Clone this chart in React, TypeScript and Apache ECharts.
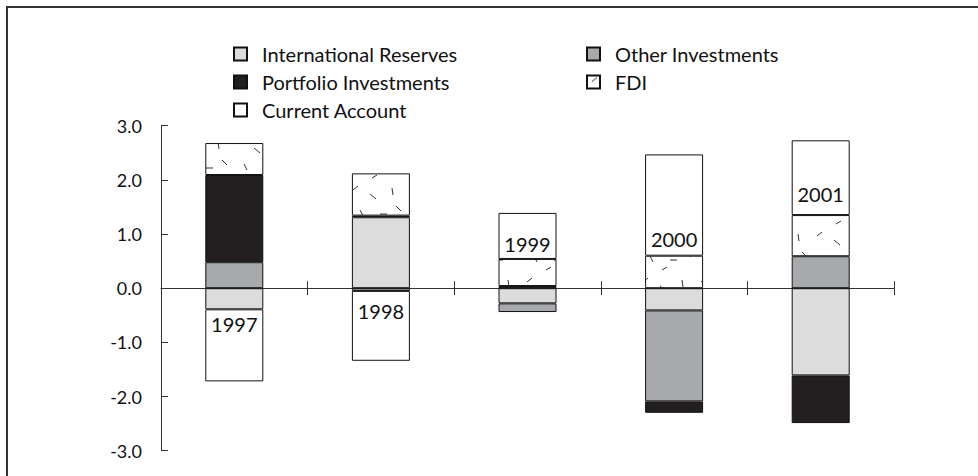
import React, { useEffect, useRef } from "react";
import * as echarts from "echarts";

const years = ["1997", "1998", "1999", "2000", "2001"];
const reserves = [-0.39, 1.31, -0.28, -0.41, -1.61];
const otherInv = [0.48, -0.05, -0.16, -1.68, 0.59];
const portfolio = [1.61, 0.03, 0.04, -0.21, -0.88];
const fdi = [0.59, 0.78, 0.5, 0.6, 0.76];
const currentAccount = [-1.33, -1.29, 0.85, 1.87, 1.38];
const yTicks = [-3, -2, -1, 0, 1, 2, 3];

const FONT = "Lato, 'Open Sans', sans-serif";

function makeFdiPattern(): HTMLCanvasElement {
  const c = document.createElement("canvas");
  c.width = 58;
  c.height = 46;
  const ctx = c.getContext("2d")!;
  ctx.fillStyle = "#ffffff";
  ctx.fillRect(0, 0, 58, 46);
  ctx.strokeStyle = "#333333";
  ctx.lineWidth = 1;
  const segs = [
    [5, 6, 10, 2],
    [22, 10, 28, 15],
    [44, 4, 45, 11],
    [12, 26, 15, 32],
    [32, 30, 39, 30],
    [48, 22, 53, 27],
    [24, 40, 29, 37],
  ];
  segs.forEach(([a, b, c2, d]) => {
    ctx.beginPath();
    ctx.moveTo(a, b);
    ctx.lineTo(c2, d);
    ctx.stroke();
  });
  return c;
}

export default function App() {
  const ref = useRef<HTMLDivElement>(null);
  useEffect(() => {
    document.body.style.margin = "0";
    const chart = echarts.init(ref.current!, null, { renderer: "svg" });
    const pattern = makeFdiPattern();
    const border = { borderColor: "#111", borderWidth: 1 };
    const labelPlace = [
      { position: "insideTop", distance: 5 },
      { position: "insideTop", distance: 10 },
      { position: "insideBottom", distance: 5 },
      { position: "insideBottom", distance: 7 },
      { position: "insideBottom", distance: 11 },
    ];
    const mk = (name: string, data: any[], color: any) => ({
      name,
      type: "bar",
      stack: "total",
      barWidth: 58,
      data,
      itemStyle: { color, ...border },
    });
    const legendText = {
      fontFamily: FONT,
      fontSize: 20,
      color: "#111",
      padding: [0, 0, 0, 10],
    };
    const gridBox = { left: 161, right: 84, top: 125.7, bottom: 25.3 };
    chart.setOption({
      animation: false,
      graphic: [
        {
          type: "rect",
          shape: { x: 7, y: 7, width: 1100, height: 1100 },
          style: { fill: "none", stroke: "#333", lineWidth: 2 },
          silent: true,
        },
      ],
      legend: [
        {
          orient: "vertical",
          left: 228,
          top: 39,
          icon: "rect",
          itemWidth: 13,
          itemHeight: 13,
          itemGap: 8,
          selectedMode: false,
          data: ["International Reserves", "Portfolio Investments", "Current Account"],
          textStyle: legendText,
        },
        {
          orient: "vertical",
          left: 581,
          top: 39,
          icon: "rect",
          itemWidth: 13,
          itemHeight: 13,
          itemGap: 8,
          selectedMode: false,
          data: ["Other Investments", "FDI"],
          textStyle: legendText,
        },
      ],
      grid: [gridBox, gridBox],
      xAxis: [
        {
          type: "category",
          gridIndex: 0,
          data: years,
          axisLine: { onZero: true, lineStyle: { color: "#333", width: 1 } },
          axisTick: { show: true, length: 7, inside: false, lineStyle: { color: "#333" } },
          axisLabel: { show: false },
        },
        {
          type: "category",
          gridIndex: 1,
          data: years,
          axisLine: { show: false, onZero: true },
          axisTick: { show: true, length: 7, inside: true, lineStyle: { color: "#333" } },
          axisLabel: { show: false },
        },
      ],
      yAxis: [
        {
          type: "value",
          gridIndex: 0,
          min: yTicks[0],
          max: yTicks[yTicks.length - 1],
          interval: 1,
          splitLine: { show: false },
          axisLine: { show: true, lineStyle: { color: "#333", width: 1 } },
          axisTick: { show: true, inside: true, length: 7, lineStyle: { color: "#333" } },
          axisLabel: {
            margin: 19,
            fontFamily: FONT,
            fontSize: 18,
            color: "#111",
            formatter: (v: number) => v.toFixed(1),
          },
        },
        {
          type: "value",
          gridIndex: 1,
          min: yTicks[0],
          max: yTicks[yTicks.length - 1],
          interval: 1,
          show: false,
        },
      ],
      series: [
        mk("International Reserves", reserves, "#dcdcdd"),
        mk("Other Investments", otherInv, "#a8a9ac"),
        mk("Portfolio Investments", portfolio, "#231f20"),
        mk("FDI", fdi, { image: pattern, repeat: "repeat" }),
        mk(
          "Current Account",
          currentAccount.map((v, i) => ({
            value: v,
            label: {
              show: true,
              formatter: years[i],
              position: labelPlace[i].position,
              distance: labelPlace[i].distance,
              fontFamily: FONT,
              fontSize: 20,
              color: "#111",
            },
          })),
          "#ffffff"
        ),
      ],
    });
    return () => chart.dispose();
  }, []);
  return <div ref={ref} style={{ width: 978, height: 476 }} />;
}
